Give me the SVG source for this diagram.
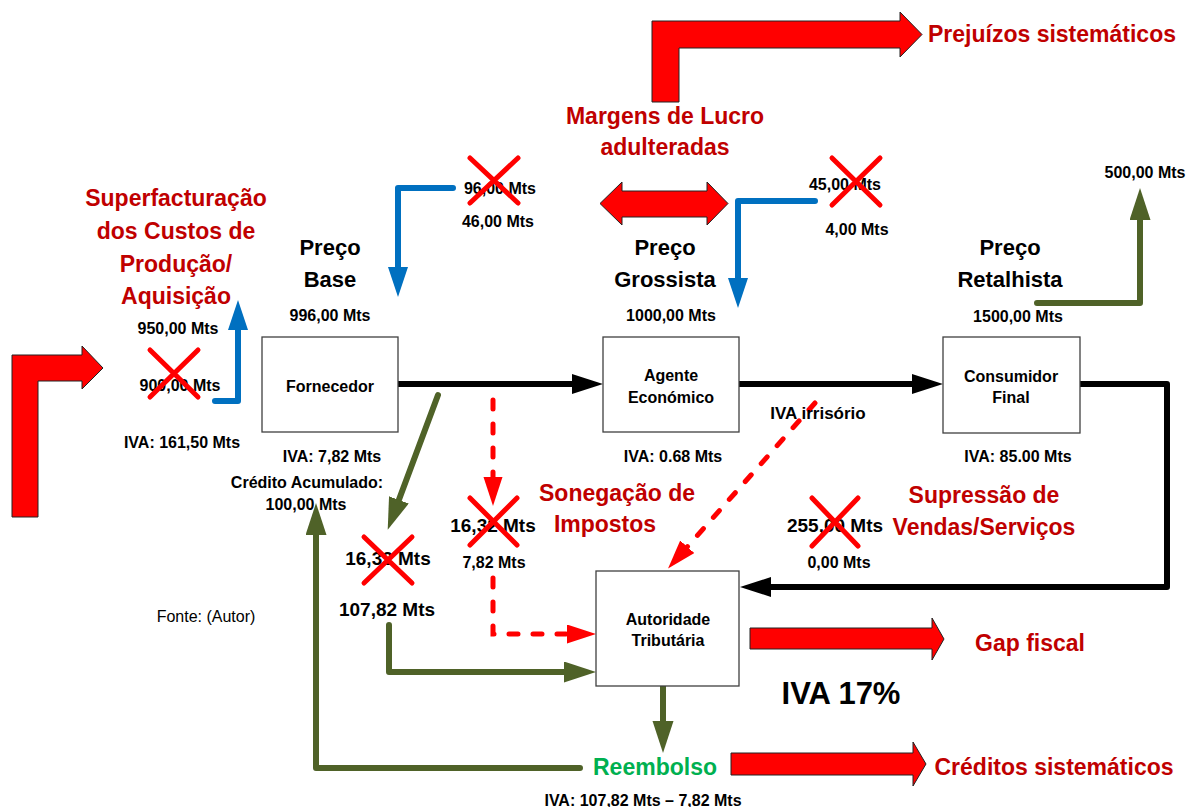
<svg xmlns="http://www.w3.org/2000/svg" width="1189" height="807" viewBox="0 0 1189 807">
<style>
  text { font-family: "Liberation Sans", Arial, sans-serif; font-weight: bold; text-anchor: middle; dominant-baseline: central; fill: #000; }
  .big { font-size: 22px; }
  .red { fill: #C00000; font-size: 23px; }
  .green { fill: #00B050; }
  .s16 { font-size: 16px; }
  .s19 { font-size: 19px; }
  .norm { font-weight: normal; }
  .box { fill: #fff; stroke: #404040; stroke-width: 1.3; }
  .blk { fill: none; stroke: #000; stroke-width: 6; stroke-linecap: round; stroke-linejoin: round; }
  .blu { fill: none; stroke: #0070C0; stroke-width: 6; stroke-linecap: round; stroke-linejoin: round; }
  .grn { fill: none; stroke: #4F6228; stroke-width: 6; stroke-linecap: round; stroke-linejoin: round; }
  .dsh { fill: none; stroke: #FF0000; stroke-width: 5; stroke-linecap: round; stroke-dasharray: 9 15; }
  .blockarrow { fill: #FF0000; stroke: #222; stroke-width: 1; stroke-linejoin: miter; }
  .x { stroke: #FF0000; stroke-width: 5; stroke-linecap: round; }
</style>
<defs>
  <marker id="ahBlack" markerUnits="userSpaceOnUse" markerWidth="32" markerHeight="22" refX="13" refY="10" orient="auto">
    <path d="M0,0 L31,10 L0,20 Z" fill="#000"/>
  </marker>
  <marker id="ahBlue" markerUnits="userSpaceOnUse" markerWidth="32" markerHeight="22" refX="12" refY="10" orient="auto">
    <path d="M0,0 L30,10 L0,20 Z" fill="#0070C0"/>
  </marker>
  <marker id="ahGreen" markerUnits="userSpaceOnUse" markerWidth="34" markerHeight="22" refX="14" refY="10.5" orient="auto">
    <path d="M0,0 L32,10.5 L0,21 Z" fill="#4F6228"/>
  </marker>
  <marker id="ahRed" markerUnits="userSpaceOnUse" markerWidth="30" markerHeight="20" refX="11" refY="9.5" orient="auto">
    <path d="M0,0 L29,9.5 L0,19 Z" fill="#FF0000"/>
  </marker>
</defs>
<rect width="1189" height="807" fill="#fff"/>

<g id="block-arrows">
  <path class="blockarrow" d="M652,102 L652,21 L900,21 L900,12 L922,34.5 L900,57 L900,48 L679,48 L679,102 Z"/>
  <path class="blockarrow" d="M12,517 L12,355 L82,355 L82,346 L103,368 L82,389 L82,381 L38,381 L38,517 Z"/>
  <path class="blockarrow" d="M600,203.5 L622,182 L622,191 L707,191 L707,182 L728,203.5 L707,225 L707,217 L622,217 L622,225 Z"/>
  <path class="blockarrow" d="M750,628 L932,628 L932,618 L944,639 L932,660 L932,649 L750,649 Z"/>
  <path class="blockarrow" d="M731,753 L913,753 L913,742 L926,764 L913,786 L913,775 L731,775 Z"/>
</g>

<g id="connectors">
  <path class="blk" d="M398,384 H585" marker-end="url(#ahBlack)"/>
  <path class="blk" d="M739,384 H925" marker-end="url(#ahBlack)"/>
  <path class="blk" d="M1080,384 H1167 V587 H758" marker-end="url(#ahBlack)"/>
  <path class="blu" d="M215,401 H238 V318" marker-end="url(#ahBlue)"/>
  <path class="blu" d="M453,188 H398 V279" marker-end="url(#ahBlue)"/>
  <path class="blu" d="M815,201 H738 V290" marker-end="url(#ahBlue)"/>
  <path class="grn" d="M1037,303 H1140 V206" marker-end="url(#ahGreen)"/>
  <path class="grn" d="M438,395 L394,513" marker-end="url(#ahGreen)"/>
  <path class="grn" d="M389,625 V672 H578" marker-end="url(#ahGreen)"/>
  <path class="grn" d="M663,686 V735" marker-end="url(#ahGreen)"/>
  <path class="grn" d="M580,768 H316 V521" marker-end="url(#ahGreen)"/>
  <path class="dsh" d="M493,400 V488" marker-end="url(#ahRed)"/>
  <path class="dsh" d="M493,578 V634 H578" marker-end="url(#ahRed)"/>
  <path class="dsh" d="M815,403 L680,555" marker-end="url(#ahRed)"/>
</g>

<g id="node-fornecedor">
  <rect class="box" x="262" y="337" width="136" height="95"/>
  <text class="s16" x="330" y="386">Fornecedor</text>
</g>
<g id="node-agente">
  <rect class="box" x="603" y="337" width="136" height="95"/>
  <text class="s16" x="671" y="375">Agente</text>
  <text class="s16" x="671" y="397">Económico</text>
</g>
<g id="node-consumidor">
  <rect class="box" x="943" y="337" width="137" height="96"/>
  <text class="s16" x="1011" y="376">Consumidor</text>
  <text class="s16" x="1011" y="397">Final</text>
</g>
<g id="node-autoridade">
  <rect class="box" x="596" y="571" width="143" height="115"/>
  <text class="s16" x="668" y="619">Autoridade</text>
  <text class="s16" x="668" y="640">Tributária</text>
</g>

<g id="labels">
  <text class="red" x="1052" y="34">Prejuízos sistemáticos</text>
  <text class="red" x="665" y="116">Margens de Lucro</text>
  <text class="red" x="665" y="147">adulteradas</text>
  <text class="red" x="176" y="198">Superfacturação</text>
  <text class="red" x="176" y="231">dos Custos de</text>
  <text class="red" x="176" y="264">Produção/</text>
  <text class="red" x="176" y="296">Aquisição</text>

  <text class="big" x="330" y="247">Preço</text>
  <text class="big" x="330" y="279">Base</text>
  <text class="big" x="665" y="247">Preço</text>
  <text class="big" x="665" y="279">Grossista</text>
  <text class="big" x="1010" y="247">Preço</text>
  <text class="big" x="1010" y="279">Retalhista</text>

  <text class="s16" x="178" y="328">950,00 Mts</text>
  <text class="s16" x="180" y="385">900,00 Mts</text>
  <text class="s16" x="182" y="442">IVA: 161,50 Mts</text>
  <text class="s16" x="330" y="315">996,00 Mts</text>
  <text class="s16" x="500" y="188">96,00 Mts</text>
  <text class="s16" x="498" y="221">46,00 Mts</text>
  <text class="s16" x="671" y="315">1000,00 Mts</text>
  <text class="s16" x="845" y="184">45,00 Mts</text>
  <text class="s16" x="857" y="229">4,00 Mts</text>
  <text class="s16" x="1145" y="172">500,00 Mts</text>
  <text class="s16" x="1018" y="316">1500,00 Mts</text>

  <text class="s16" x="332" y="456">IVA: 7,82 Mts</text>
  <text class="s16" x="307" y="482">Crédito Acumulado:</text>
  <text class="s16" x="306" y="504">100,00 Mts</text>
  <text class="s16" x="673" y="456">IVA: 0.68 Mts</text>
  <text class="s16" x="1018" y="456">IVA: 85.00 Mts</text>
  <text class="s16" style="font-size:17px" x="818" y="413">IVA irrisório</text>

  <text class="red" x="617" y="493">Sonegação de</text>
  <text class="red" x="605" y="524">Impostos</text>
  <text class="red" x="984" y="495">Supressão de</text>
  <text class="red" x="984" y="527">Vendas/Serviços</text>

  <text class="s19" x="388" y="558">16,32 Mts</text>
  <text class="s19" x="387" y="609">107,82 Mts</text>
  <text class="s19" x="493" y="525">16,32 Mts</text>
  <text class="s16" x="494" y="562">7,82 Mts</text>
  <text class="s19" x="835" y="525">255,00 Mts</text>
  <text class="s16" x="839" y="562">0,00 Mts</text>

  <text class="s16 norm" x="206" y="616">Fonte: (Autor)</text>
  <text class="red" x="1030" y="643">Gap fiscal</text>
  <text style="font-size:31px" x="841" y="693">IVA 17%</text>
  <text class="big green" style="font-size:23px" x="655" y="767">Reembolso</text>
  <text class="red" x="1054" y="767">Créditos sistemáticos</text>
  <text class="s16" x="643" y="800">IVA: 107,82 Mts – 7,82 Mts</text>
</g>

<g id="cross-marks">
  <path class="x" d="M150,350 L198,397 M150,397 L198,350"/>
  <path class="x" d="M470,158 L518,203 M470,203 L518,158"/>
  <path class="x" d="M832,158 L880,205 M832,205 L880,158"/>
  <path class="x" d="M364,537 L412,583 M364,583 L412,537"/>
  <path class="x" d="M470,498 L517,545 M470,545 L517,498"/>
  <path class="x" d="M812,498 L858,546 M812,546 L858,498"/>
</g>
</svg>
